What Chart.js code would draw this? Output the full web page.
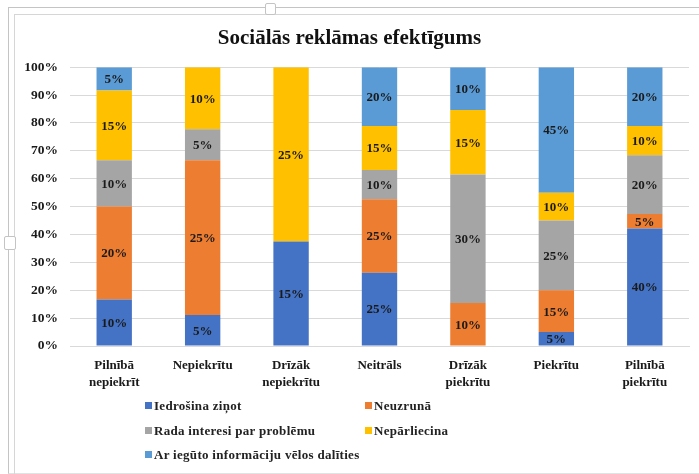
<!DOCTYPE html>
<html lang="lv">
<head>
  <meta charset="UTF-8">
  <title>Sociālās reklāmas efektīgums</title>
  <script src="https://cdn.jsdelivr.net/npm/chart.js"></script>
  <style>
    body { margin: 0; background: #fff; }
    #wrap { position: relative; width: 699px; height: 474px; overflow: hidden; }
    #myChart { position: absolute; left: 0; top: 0; }
    .frame1 { position: absolute; left: 8px; top: 7px; width: 720px; height: 465px;
              border-left: 1px solid #c4c4c4; border-top: 1px solid #c4c4c4; border-bottom: 1px solid #e2e2e2; }
    .frame2 { position: absolute; left: 14px; top: 14px; width: 720px; height: 460px;
              border-left: 1px solid #d6d6d6; border-top: 1px solid #d6d6d6; }
    .handle { position: absolute; background: #fff; border: 1px solid #c4c4c4; border-radius: 2px; }
    #legend { position: absolute; left: 0; top: 0; font: bold 13px "Liberation Serif", serif; color: #222; letter-spacing: 0.3px; }
    .item { position: absolute; white-space: nowrap; line-height: 14px; }
    .item i { display: inline-block; width: 7px; height: 7px; margin-right: 2px; vertical-align: 1px; }
  </style>
</head>
<body>
<div id="wrap">
  <div class="frame1"></div>
  <div class="frame2"></div>
  <div class="handle" style="left:265px;top:3px;width:9px;height:10px;"></div>
  <div class="handle" style="left:4px;top:236px;width:10px;height:12px;"></div>
  <canvas id="myChart" width="699" height="474"></canvas>
  <div id="legend"></div>
</div>

<script>
  // kategorijas un vērtības (procenti no katras grupas)
  const categories = [
    ["Pilnībā", "nepiekrīt"],
    "Nepiekrītu",
    ["Drīzāk", "nepiekrītu"],
    "Neitrāls",
    ["Drīzāk", "piekrītu"],
    "Piekrītu",
    ["Pilnībā", "piekrītu"]
  ];
  const seriesNames = [
    "Iedrošina ziņot",
    "Neuzrunā",
    "Rada interesi par problēmu",
    "Nepārliecina",
    "Ar iegūto informāciju vēlos dalīties"
  ];
  const iedrosina   = [10, 5, 15, 25, 0, 5, 40];
  const neuzruna    = [20, 25, 0, 25, 10, 15, 5];
  const radaInteresi = [10, 5, 0, 10, 30, 25, 20];
  const neparliecina = [15, 10, 25, 15, 15, 10, 10];
  const dalities    = [5, 0, 0, 20, 10, 45, 20];
  const yTicks = [0, 10, 20, 30, 40, 50, 60, 70, 80, 90, 100];

  const colors = ['#4472C4', '#ED7D31', '#A5A5A5', '#FFC000', '#5B9BD5'];
  const raw = [iedrosina, neuzruna, radaInteresi, neparliecina, dalities];

  // 100% stacked: katru kolonnu normalizē uz 100
  const totals = categories.map((c, i) => raw.reduce((s, arr) => s + arr[i], 0));

  const labelPlugin = {
    id: 'segLabels',
    afterDatasetsDraw(chart) {
      const ctx = chart.ctx;
      ctx.save();
      ctx.font = 'bold 13px "Liberation Serif", serif';
      ctx.fillStyle = '#1a1a1a';
      ctx.textAlign = 'center';
      ctx.textBaseline = 'middle';
      chart.data.datasets.forEach((ds, di) => {
        chart.getDatasetMeta(di).data.forEach((el, i) => {
          const v = ds.rawValues[i];
          if (!v) return;
          ctx.fillText(v + '%', el.x, (el.y + el.base) / 2 + 1);
        });
      });
      ctx.restore();
    }
  };

  const ctx = document.getElementById('myChart').getContext('2d');
  new Chart(ctx, {
    type: 'bar',
    data: {
      labels: categories,
      datasets: raw.map((arr, k) => ({
        label: seriesNames[k],
        data: arr.map((v, i) => v / totals[i] * 100),
        rawValues: arr,
        backgroundColor: colors[k],
        barPercentage: 0.4,
        categoryPercentage: 1
      }))
    },
    options: {
      responsive: false,
      animation: false,
      layout: { padding: { left: 10, right: 10, top: 0, bottom: 78 } },
      plugins: {
        legend: { display: false },
        tooltip: { enabled: false },
        title: {
          display: true,
          text: 'Sociālās reklāmas efektīgums',
          color: '#111',
          font: { family: '"Liberation Serif", serif', size: 21, weight: 'bold' },
          padding: { top: 26, bottom: 16 }
        }
      },
      scales: {
        x: {
          stacked: true,
          grid: { display: false },
          border: { color: '#d9d9d9' },
          ticks: {
            color: '#1a1a1a',
            padding: 3,
            maxRotation: 0,
            font: { family: '"Liberation Serif", serif', size: 13, weight: 'bold', lineHeight: 1.3 }
          },
          afterFit(scale) { scale.height = 50; }
        },
        y: {
          stacked: true,
          min: 0,
          max: 100,
          afterBuildTicks(scale) { scale.ticks = yTicks.map(v => ({ value: v })); },
          grid: { color: '#d9d9d9', drawTicks: false },
          border: { display: false },
          ticks: {
            color: '#1a1a1a',
            padding: 12,
            font: { family: '"Liberation Serif", serif', size: 13.5, weight: 'bold' },
            callback: v => v + '%'
          },
          afterFit(scale) { scale.width = 60; }
        }
      }
    },
    plugins: [labelPlugin]
  });

  // leģenda divās kolonnās
  const legendPos = [[145, 399], [365, 399], [145, 424], [365, 424], [145, 448]];
  const legend = document.getElementById('legend');
  seriesNames.forEach((name, k) => {
    const d = document.createElement('div');
    d.className = 'item';
    d.style.left = legendPos[k][0] + 'px';
    d.style.top = legendPos[k][1] + 'px';
    d.innerHTML = '<i style="background:' + colors[k] + '"></i>' + name;
    legend.appendChild(d);
  });
</script>
</body>
</html>
